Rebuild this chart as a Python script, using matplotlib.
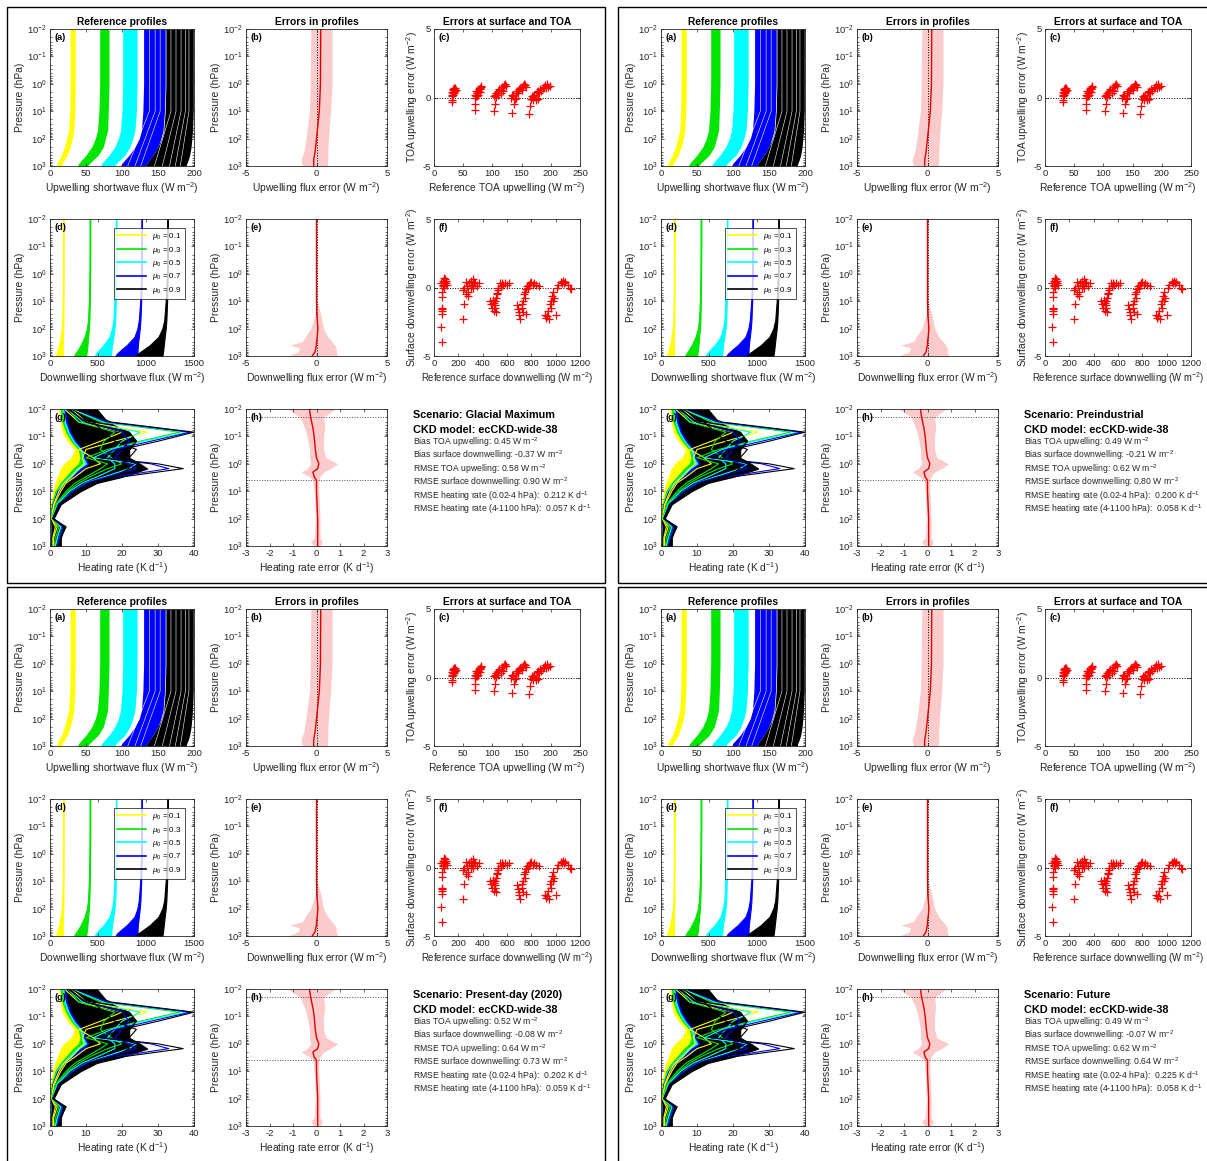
import numpy as np
import matplotlib
matplotlib.use("Agg")
import matplotlib.pyplot as plt
from matplotlib.patches import Rectangle

plt.rcParams["font.family"] = ["Liberation Sans", "DejaVu Sans"]
plt.rcParams["mathtext.fontset"] = "custom"
plt.rcParams["mathtext.rm"] = "Liberation Sans"
plt.rcParams["mathtext.it"] = "Liberation Sans:italic"
plt.rcParams["mathtext.bf"] = "Liberation Sans:bold"
plt.rcParams["axes.linewidth"] = 0.6
plt.rcParams["axes.edgecolor"] = "0.15"
plt.rcParams["axes.unicode_minus"] = False

W, H = 1207, 1161

# ---- scenario text ----
scenario_names = ["Glacial Maximum", "Preindustrial", "Present-day (2020)", "Future"]
bias_toa = [0.45, 0.49, 0.52, 0.49]
bias_sfc = [-0.37, -0.21, -0.08, -0.07]
rmse_toa = [0.58, 0.62, 0.64, 0.62]
rmse_sfc = [0.90, 0.80, 0.73, 0.64]
rmse_hr_upper = [0.212, 0.200, 0.202, 0.225]
rmse_hr_lower = [0.057, 0.058, 0.059, 0.058]

mu0_labels = ["0.1", "0.3", "0.5", "0.7", "0.9"]
mu0_colors = ["#ffff00", "#00e600", "#00ffff", "#0000ff", "#000000"]

# ---- (a) upwelling flux bands, one row per mu0 ----
p_flux = [0.01, 0.1, 1, 10, 50, 100, 200, 400, 600, 800, 1000]
up_left = [
    [28, 28, 28, 27.5, 26, 23, 20, 16, 12, 10, 9],
    [69, 69, 69, 68, 66, 63, 58, 50, 44, 40, 38],
    [101, 101, 101, 100, 98, 95, 90, 82, 76, 72, 70],
    [130, 130, 130, 129, 127, 124, 118, 110, 104, 100, 98],
    [161, 161, 161, 160, 158, 155, 150, 143, 138, 135, 133],
]
up_right = [
    [35, 35, 35, 34.5, 33, 31, 28, 24, 20, 17, 16],
    [82, 82, 82, 81, 80, 77, 74, 67, 60, 55, 52],
    [121, 121, 121, 120, 118, 115, 111, 104, 97, 92, 90],
    [160, 160, 160, 159, 157, 154, 150, 143, 138, 135, 133],
    [199, 199, 199, 199, 198, 197, 196, 194, 192, 190, 189],
]
# a few visible gaps between individual profiles of the blue and black groups (TOA value, surface value)
up_gap_top = [138, 146, 153, 168, 175, 182, 188, 193]
up_gap_bottom = [108, 118, 126, 145, 156, 166, 174, 181]

# ---- (d) downwelling flux bands ----
dn_left = [
    [135, 135, 134, 132, 128, 122, 110, 95, 80, 70, 62],
    [412, 412, 410, 405, 395, 385, 360, 320, 290, 265, 250],
    [686, 686, 682, 670, 660, 645, 620, 560, 510, 480, 465],
    [952, 952, 950, 940, 925, 910, 880, 800, 740, 700, 680],
    [1222, 1222, 1218, 1205, 1190, 1170, 1130, 1040, 970, 920, 890],
]
dn_right = [
    [143, 143, 142, 141, 140, 138, 135, 133, 133, 134, 135],
    [420, 420, 418, 415, 410, 405, 398, 390, 385, 380, 375],
    [692, 692, 690, 685, 680, 672, 660, 645, 640, 638, 635],
    [958, 958, 956, 950, 942, 935, 925, 915, 912, 912, 912],
    [1228, 1228, 1226, 1220, 1212, 1205, 1195, 1185, 1180, 1175, 1170],
]

# ---- (b) upwelling error ----
p_err_up = [0.01, 1, 10, 100, 300, 600, 1000]
err_up_mean = [0.3, 0.28, 0.2, 0.0, -0.1, -0.2, -0.2]
err_up_lo = [-0.4, -0.45, -0.5, -0.75, -0.9, -1.1, -1.0]
err_up_hi = [1.1, 1.1, 1.0, 0.85, 0.8, 0.8, 0.75]

# ---- (e) downwelling error ----
p_err_dn = [0.01, 10, 30, 100, 200, 300, 400, 500, 700, 1000]
err_dn_mean = [0, 0, 0.02, 0.1, 0.05, 0, 0, -0.05, -0.1, -0.3]
err_dn_lo = [-0.03, -0.05, -0.1, -0.4, -0.8, -1.0, -1.9, -1.2, -1.3, -2.0]
err_dn_hi = [0.03, 0.05, 0.3, 0.5, 0.8, 1.1, 1.3, 1.4, 1.4, 1.5]

# ---- (g) heating rate: envelopes and peak curves ----
p_hr = [0.01, 0.03, 0.07, 0.15, 0.3, 0.6, 1, 1.5, 3, 5, 10, 30, 100, 200, 500, 1000]
hr_left = [
    [2.5, 3, 3.5, 5, 7, 6, 4, 3, 2.2, 1.5, 0.9, 0.3, 0.2, 0.3, 0.3, 0.3],
    [3, 3.5, 4.5, 6, 8, 8.5, 8, 6.5, 4.5, 3, 1.5, 0.5, 0.2, 0.4, 0.3, 0.3],
    [3.5, 4, 5, 6.5, 8.5, 9, 9.5, 7.5, 5.2, 3.5, 1.8, 0.6, 0.25, 0.4, 0.3, 0.3],
    [4, 4.5, 5.5, 7, 9, 9.5, 10.5, 8.5, 6, 4, 2, 0.7, 0.3, 0.5, 0.4, 0.4],
    [4.5, 5, 6, 7.5, 9.5, 10, 11, 9.5, 7, 4.5, 2.3, 0.8, 0.3, 0.5, 0.4, 0.4],
]
hr_right = [
    [5, 6, 9, 9, 9, 9.5, 10, 9, 7, 4.5, 2.8, 1, 0.4, 1, 0.8, 0.8],
    [8, 12, 16, 16, 14, 14, 16, 14, 10, 7, 4, 1.5, 0.5, 2, 1.5, 1.2],
    [10, 13, 18, 18, 16, 16, 18, 18, 13, 9, 5, 1.8, 0.6, 3, 2, 1.5],
    [12, 15, 20, 22, 20, 20, 22, 24, 16, 11, 6.5, 2.3, 0.8, 3.5, 2.5, 2],
    [13, 16, 22, 24, 22, 22, 25, 27, 20, 13, 8.5, 3, 1, 4, 3, 3],
]
hr_peak_yellow = [
    [6, 10, 27, 18, 10, 9, 9.5, 8, 6, 4, 2.5, 1, 0.4, 1.5, 0.8, 0.8],
    [4, 8, 20, 14, 8, 12, 14, 10, 7, 4.5, 3, 1.2, 0.5, 2, 1, 1],
]
hr_peak_green = [
    [6, 14, 36, 25, 16, 10, 16, 14, 10, 7, 4.5, 1.5, 0.5, 2.5, 1.5, 1.2],
    [5, 8, 18, 15, 14, 17, 20, 16, 11, 8, 5, 1.8, 0.6, 3, 2, 1.5],
]
hr_peak_cyan = [
    [6, 15, 38, 26, 17, 12, 24, 22, 15, 10, 6.5, 2.2, 0.7, 3.5, 2.5, 2],
    [5, 9, 25, 20, 18, 16, 18, 18, 13, 9, 5.5, 2, 0.7, 3, 2, 1.5],
]
hr_peak_blue = [
    [7, 16, 39, 28, 18, 14, 28, 33, 18, 11, 7, 2.5, 0.8, 4, 3, 2],
    [5, 10, 20, 22, 20, 18, 22, 24, 16, 10, 6.5, 2.3, 0.8, 3.5, 2.5, 2],
]
hr_peak_black = [
    [7, 17, 40, 30, 20, 14, 30, 37, 20, 12, 7.5, 2.7, 0.9, 4.5, 3, 2.5],
    [5, 10, 22, 24, 22, 19, 24, 26, 17, 11, 7, 2.5, 0.8, 4, 3, 2.2],
    [6, 12, 15, 18, 24, 22, 20, 22, 18, 12, 7.5, 2.6, 0.8, 4, 3, 2.3],
]

# ---- (h) heating rate error ----
p_err_hr = [0.01, 0.02, 0.05, 0.1, 0.3, 0.6, 1, 1.5, 2, 3, 4, 10, 100, 500, 700, 1000]
err_hr_mean = [-0.3, -0.25, -0.15, -0.1, -0.05, 0.0, 0.1, 0.05, -0.15, -0.1, 0.0, 0.0, 0.05, 0.05, 0.05, 0.05]
err_hr_lo = [-1.2, -0.7, -0.5, -0.4, -0.3, -0.3, -0.25, -0.4, -0.65, -0.3, -0.15, -0.1, -0.05, -0.1, -0.25, -0.1]
err_hr_hi = [0.8, 0.3, 0.35, 0.3, 0.3, 0.4, 0.9, 0.6, 0.3, 0.15, 0.1, 0.1, 0.15, 0.15, 0.25, 0.15]

# ---- (c) TOA upwelling scatter ----
toa_ref = [30, 31, 31, 32, 32, 33, 33, 34, 34, 35, 35, 36, 36, 37, 31, 30,
           70, 71, 72, 73, 74, 75, 76, 77, 78, 79, 80, 81, 72, 74, 76, 78, 70, 70,
           102, 104, 106, 108, 110, 112, 114, 116, 118, 120, 122, 124, 106, 110, 114, 118, 104, 102,
           132, 134, 136, 138, 140, 142, 144, 146, 148, 150, 152, 154, 156, 158, 136, 140, 144, 150, 137, 133,
           166, 168, 170, 172, 174, 176, 178, 180, 182, 184, 186, 188, 190, 192, 194, 196, 198, 170, 175, 178, 165, 163]
toa_err = [0.2, 0.1, 0.4, 0.3, 0.55, 0.2, 0.6, 0.4, 0.7, 0.3, 0.6, 0.45, 0.7, 0.55, -0.2, -0.35,
           0.0, 0.2, 0.1, 0.35, 0.3, 0.5, 0.45, 0.6, 0.7, 0.65, 0.85, 0.8, 0.5, 0.1, 0.2, 0.4, -0.5, -0.9,
           0.1, 0.2, 0.35, 0.3, 0.5, 0.6, 0.55, 0.75, 0.8, 0.9, 1.0, 0.85, 0.05, 0.2, 0.35, 0.5, -0.5, -1.0,
           0.0, 0.2, 0.1, -0.1, 0.3, 0.5, 0.45, 0.6, 0.7, 0.75, 0.85, 1.0, 0.9, 0.8, 0.15, 0.0, 0.3, 0.55, -0.5, -1.1,
           -0.1, 0.1, -0.2, 0.2, 0.0, 0.4, 0.5, 0.3, 0.6, 0.5, 0.7, 0.8, 0.9, 0.7, 1.0, 0.8, 0.85, 0.05, -0.15, -0.1, -0.6, -1.2]

# ---- (f) surface downwelling scatter ----
sfc_ref = [60, 70, 75, 80, 85, 90, 95, 100, 110, 70, 80, 90, 65, 65, 65, 62, 63, 60, 62, 65,
           240, 250, 260, 270, 280, 290, 300, 310, 320, 330, 340, 350, 370, 260, 280, 300, 320, 245, 240,
           460, 470, 480, 490, 500, 510, 520, 530, 540, 560, 580, 600, 620, 505, 515, 495, 485, 525, 550, 570, 510, 500,
           680, 690, 700, 710, 720, 730, 740, 750, 760, 770, 780, 790, 800, 820, 840, 860, 735, 745, 755, 765, 810, 700, 725,
           910, 920, 930, 940, 950, 960, 970, 980, 990, 1000, 1010, 1020, 1040, 1060, 1080, 1100, 1120, 1130, 965, 975, 1050, 1070, 945]
sfc_err = [0.3, 0.5, 0.2, 0.7, 0.4, 0.6, 0.3, 0.5, 0.2, 0.1, 0.0, 0.3, -0.3, -0.7, -1.5, -1.7, -1.95, -2.9, -4.0, -1.6,
           -0.2, 0.0, -0.5, 0.1, -0.3, 0.3, 0.5, 0.2, 0.6, 0.4, 0.3, 0.1, 0.3, 0.4, -0.6, 0.0, 0.0, -1.2, -2.3,
           -1.0, -1.2, -1.5, -1.7, -1.3, -0.8, -0.4, 0.0, 0.3, 0.3, 0.3, 0.2, 0.3, -1.0, -0.5, -1.1, -0.9, -0.2, 0.1, 0.2, -1.8, -1.5,
           -1.3, -1.6, -2.0, -2.3, -1.5, -1.0, -0.5, -0.3, -1.9, 0.0, 0.2, 0.3, 0.4, 0.3, 0.2, 0.1, -1.8, -0.8, -0.1, 0.1, 0.2, -1.8, -1.2,
           -2.0, -2.2, -2.1, -1.7, -1.2, -1.0, -0.6, -0.3, -0.8, -2.0, 0.0, 0.2, 0.4, 0.5, 0.4, 0.2, 0.0, -0.1, -1.5, -1.0, 0.3, 0.3, -2.3]

block_offsets = [(0, 0), (611, 0), (0, 580), (611, 580)]

TICK = 6.8
LAB = 7.4
GREY = "0.15"
PINK = "#fbcaca"


def add_axes_px(fig, x0, y0, x1, y1):
    return fig.add_axes([x0 / W, 1 - y1 / H, (x1 - x0) / W, (y1 - y0) / H])


def style(ax, letter):
    ax.tick_params(which="both", direction="in", top=True, right=True,
                   labelsize=TICK, colors=GREY, width=0.5, pad=2)
    ax.tick_params(which="major", length=2.5)
    ax.tick_params(which="minor", length=1.5)
    ax.text(0.03, 0.97, "(%s)" % letter, transform=ax.transAxes, ha="left", va="top",
            fontsize=6.6, fontweight="bold")


def pressure_axis(ax):
    ax.set_yscale("log")
    ax.set_ylim(1000, 0.01)
    ax.set_yticks([1e-2, 1e-1, 1, 10, 100, 1000])
    ax.set_ylabel("Pressure (hPa)", fontsize=LAB, color=GREY, labelpad=2)


def draw_block(fig, k):
    ox, oy = block_offsets[k]
    fig.add_artist(Rectangle(((7 + ox) / W, 1 - (583 + oy) / H), 598 / W, 576 / H,
                             transform=fig.transFigure, fill=False, lw=1.0, ec="black"))

    def ax_at(x0, y0, x1, y1):
        return add_axes_px(fig, x0 + ox, y0 + oy, x1 + ox, y1 + oy)

    # (a) upwelling profiles
    ax = ax_at(50, 29, 194, 166)
    for i in range(5):
        ax.fill_betweenx(p_flux, up_left[i], up_right[i], color=mu0_colors[i], lw=0)
    for t, b in zip(up_gap_top, up_gap_bottom):
        ax.plot([t, t, b], [0.01, 10, 1000], color="white", lw=0.4)
    ax.set_xlim(0, 200)
    ax.set_xticks([0, 50, 100, 150, 200])
    pressure_axis(ax)
    ax.set_xlabel("Upwelling shortwave flux (W m$^{-2}$)", fontsize=LAB, color=GREY, labelpad=2)
    ax.set_title("Reference profiles", fontsize=7.4, fontweight="bold", pad=3)
    style(ax, "a")

    # (b) upwelling error
    ax = ax_at(246, 29, 387, 166)
    ax.fill_betweenx(p_err_up, err_up_lo, err_up_hi, color=PINK, lw=0)
    ax.axvline(0, color="black", ls=":", lw=0.7)
    ax.plot(err_up_mean, p_err_up, color="#e00000", lw=1.0)
    ax.set_xlim(-5, 5)
    ax.set_xticks([-5, 0, 5])
    pressure_axis(ax)
    ax.set_xlabel("Upwelling flux error (W m$^{-2}$)", fontsize=LAB, color=GREY, labelpad=2)
    ax.set_title("Errors in profiles", fontsize=7.4, fontweight="bold", pad=3)
    style(ax, "b")

    # (c) TOA scatter
    ax = ax_at(434, 29, 580, 166)
    ax.axhline(0, color="black", ls=":", lw=0.7)
    ax.plot(toa_ref, toa_err, "+", color="red", ms=5.5, mew=0.9)
    ax.set_xlim(0, 250)
    ax.set_ylim(-5, 5)
    ax.set_xticks([0, 50, 100, 150, 200, 250])
    ax.set_yticks([-5, 0, 5])
    ax.set_xlabel("Reference TOA upwelling (W m$^{-2}$)", fontsize=LAB, color=GREY, labelpad=2)
    ax.set_ylabel("TOA upwelling error (W m$^{-2}$)", fontsize=LAB, color=GREY, labelpad=2)
    ax.set_title("Errors at surface and TOA", fontsize=7.4, fontweight="bold", pad=3)
    style(ax, "c")

    # (d) downwelling profiles
    ax = ax_at(50, 219, 194, 356)
    for i in range(5):
        ax.fill_betweenx(p_flux, dn_left[i], dn_right[i], color=mu0_colors[i], lw=0.8,
                         ec=mu0_colors[i])
        ax.plot([], [], color=mu0_colors[i], lw=1.2, label=r"$\mu_0$ = " + mu0_labels[i])
    ax.set_xlim(0, 1500)
    ax.set_xticks([0, 500, 1000, 1500])
    pressure_axis(ax)
    ax.set_xlabel("Downwelling shortwave flux (W m$^{-2}$)", fontsize=LAB, color=GREY, labelpad=2)
    leg = ax.legend(loc="upper right", bbox_to_anchor=(0.94, 0.935), fontsize=5.8, frameon=True,
                    fancybox=False, edgecolor="black", handlelength=3.6, handletextpad=0.8,
                    borderpad=0.4, labelspacing=0.3, borderaxespad=0)
    leg.get_frame().set_linewidth(0.6)
    style(ax, "d")

    # (e) downwelling error
    ax = ax_at(246, 219, 387, 356)
    ax.fill_betweenx(p_err_dn, err_dn_lo, err_dn_hi, color=PINK, lw=0)
    ax.axvline(0, color="black", ls=":", lw=0.7)
    ax.plot(err_dn_mean, p_err_dn, color="#e00000", lw=1.0)
    ax.set_xlim(-5, 5)
    ax.set_xticks([-5, 0, 5])
    pressure_axis(ax)
    ax.set_xlabel("Downwelling flux error (W m$^{-2}$)", fontsize=LAB, color=GREY, labelpad=2)
    style(ax, "e")

    # (f) surface scatter
    ax = ax_at(434, 219, 580, 356)
    ax.axhline(0, color="black", ls=":", lw=0.7)
    ax.plot(sfc_ref, sfc_err, "+", color="red", ms=5.5, mew=0.9)
    ax.set_xlim(0, 1200)
    ax.set_ylim(-5, 5)
    ax.set_xticks([0, 200, 400, 600, 800, 1000, 1200])
    ax.set_yticks([-5, 0, 5])
    ax.set_xlabel("Reference surface downwelling (W m$^{-2}$)", fontsize=LAB - 0.5, color=GREY, labelpad=2)
    ax.set_ylabel("Surface downwelling error (W m$^{-2}$)", fontsize=LAB, color=GREY, labelpad=2)
    style(ax, "f")

    # (g) heating rates
    ax = ax_at(50, 409, 194, 546)
    peaks = [hr_peak_yellow, hr_peak_green, hr_peak_cyan, hr_peak_blue, hr_peak_black]
    for i in range(5):
        for curve in peaks[i]:
            ax.plot(curve, p_hr, color=mu0_colors[i], lw=0.8)
    for i in range(5):
        ax.fill_betweenx(p_hr, hr_left[i], hr_right[i], color=mu0_colors[i], lw=0.8,
                         ec=mu0_colors[i])
    ax.set_xlim(0, 40)
    ax.set_xticks([0, 10, 20, 30, 40])
    pressure_axis(ax)
    ax.set_xlabel("Heating rate (K d$^{-1}$)", fontsize=LAB, color=GREY, labelpad=2)
    style(ax, "g")

    # (h) heating rate error
    ax = ax_at(246, 409, 387, 546)
    ax.fill_betweenx(p_err_hr, err_hr_lo, err_hr_hi, color=PINK, lw=0)
    ax.axhline(0.02, color="0.3", ls=":", lw=0.7)
    ax.axhline(4, color="0.3", ls=":", lw=0.7)
    ax.plot(err_hr_mean, p_err_hr, color="#e00000", lw=1.0)
    ax.set_xlim(-3, 3)
    ax.set_xticks([-3, -2, -1, 0, 1, 2, 3])
    pressure_axis(ax)
    ax.set_xlabel("Heating rate error (K d$^{-1}$)", fontsize=LAB, color=GREY, labelpad=2)
    style(ax, "h")

    # summary text
    tx = (413 + ox) / W

    def ty(y):
        return 1 - (y + oy) / H

    fig.text(tx, ty(415), "Scenario: " + scenario_names[k], fontsize=7.8, fontweight="bold", va="center")
    fig.text(tx, ty(430), "CKD model: ecCKD-wide-38", fontsize=7.8, fontweight="bold", va="center")
    lines = [
        "Bias TOA upwelling: %.2f W m$^{-2}$" % bias_toa[k],
        "Bias surface downwelling: %.2f W m$^{-2}$" % bias_sfc[k],
        "RMSE TOA upwelling: %.2f W m$^{-2}$" % rmse_toa[k],
        "RMSE surface downwelling: %.2f W m$^{-2}$" % rmse_sfc[k],
        "RMSE heating rate (0.02-4 hPa):  %.3f K d$^{-1}$" % rmse_hr_upper[k],
        "RMSE heating rate (4-1100 hPa):  %.3f K d$^{-1}$" % rmse_hr_lower[k],
    ]
    for j, s in enumerate(lines):
        fig.text(tx, ty(442 + 13.5 * j), s, fontsize=6.2, va="center", color=GREY)


fig = plt.figure(figsize=(W / 100, H / 100), dpi=100)
fig.patch.set_facecolor("white")
for k in range(4):
    draw_block(fig, k)

fig.savefig("out.png", dpi=100)
